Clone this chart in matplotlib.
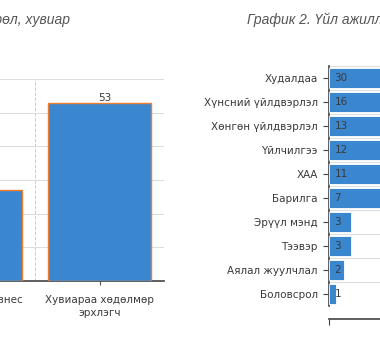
import numpy as np
import matplotlib.pyplot as plt

plt.rcParams['font.family'] = ['DejaVu Sans']

# Graph 1: form of business, percent
type_labels = ['Гэр бүлийн бизнес', 'Хувиараа хөдөлмөр\nэрхлэгч']
type_values = [27, 53]

# Graph 2: sector of activity, percent
sector_labels = ['Худалдаа', 'Хүнсний үйлдвэрлэл', 'Хөнгөн үйлдвэрлэл', 'Үйлчилгээ', 'ХАА',
                 'Барилга', 'Эрүүл мэнд', 'Тээвэр', 'Аялал жуулчлал', 'Боловсрол']
sector_values = [30, 16, 13, 12, 11, 7, 3, 3, 2, 1]

blue = '#3a87cf'
orange = '#ed7d31'
text_col = '#3a3a3a'

W, H = 380, 350
fig = plt.figure(figsize=(W / 100, H / 100), dpi=100)


def box(left, top, right, bottom):
    # pixel box -> figure fraction
    return [left / W, 1 - bottom / H, (right - left) / W, (bottom - top) / H]


# left panel (cut off on the left)
ax1 = fig.add_axes(box(-93.5, 79, 164, 281))
x = np.arange(len(type_values))
ax1.bar(x, type_values, width=0.8, color=blue, edgecolor=orange, linewidth=1, zorder=3)
for xi, v in zip(x, type_values):
    ax1.annotate(str(v), (xi, v), xytext=(4, 0), textcoords='offset points',
                 ha='center', va='bottom', fontsize=7.5, color=text_col)
ax1.set_xlim(-0.5, 1.5)
ax1.set_ylim(0, 60)
ax1.set_xticks(x)
ax1.set_xticklabels(type_labels, fontsize=7.5, color=text_col, linespacing=1.35)
ax1.set_yticks(np.arange(0, 61, 10))
ax1.tick_params(axis='x', length=3, color='#555555', pad=7)
ax1.tick_params(axis='y', left=False, labelleft=False)
ax1.set_xticks([-0.5, 0.5, 1.5], minor=True)
ax1.tick_params(axis='x', which='minor', length=0)
ax1.grid(axis='y', color='#dddddd', linewidth=0.8, zorder=0)
ax1.grid(axis='x', which='minor', color='#cccccc', linestyle='--', linewidth=0.7, zorder=0)
ax1.grid(axis='x', which='major', visible=False)
for s in ['left', 'right', 'top']:
    ax1.spines[s].set_visible(False)
ax1.spines['bottom'].set_color('#444444')
ax1.spines['bottom'].set_linewidth(1.2)

# right panel (cut off on the right)
ax2 = fig.add_axes(box(329, 66, 625, 306))
y = np.arange(len(sector_values))
ax2.barh(y, sector_values, height=0.83, color=blue, edgecolor='white', linewidth=0.6, zorder=3)
for yi, v in zip(y, sector_values):
    ax2.annotate(str(v), (0, yi), xytext=(4, 0), textcoords='offset points',
                 ha='left', va='center', fontsize=7.5, color=text_col, zorder=4)
ax2.set_ylim(9.5, -0.5)
ax2.set_xlim(0, 40)
ax2.set_yticks(y)
ax2.set_yticklabels(sector_labels, fontsize=7.5, color=text_col)
ax2.set_yticks(np.arange(-0.5, 10, 1), minor=True)
ax2.tick_params(axis='y', which='major', length=4.5, color='#444444', pad=3.5)
ax2.tick_params(axis='y', which='minor', length=0)
ax2.grid(axis='y', which='minor', color='#dddddd', linewidth=0.8, zorder=0)
ax2.set_xticks([0])
ax2.set_xticklabels([''])
ax2.tick_params(axis='x', length=4, color='#444444')
for s in ['right', 'top']:
    ax2.spines[s].set_visible(False)
ax2.spines['left'].set_color('#444444')
ax2.spines['left'].set_linewidth(1.2)
ax2.spines['bottom'].set_color('#444444')
ax2.spines['bottom'].set_linewidth(1.2)
ax2.spines['bottom'].set_position(('outward', 9))

title_kw = dict(va='center', fontsize=10, style='italic', color='#555555',
                family=['Liberation Sans', 'DejaVu Sans'])
fig.text(70 / W, 1 - 20 / H, 'График 1. Бизнесийн төрөл, хувиар', ha='right', **title_kw)
fig.text(247 / W, 1 - 20 / H, 'График 2. Үйл ажиллагааны чиглэлээр, хувиар', ha='left', **title_kw)

fig.savefig('out.png', dpi=100)
